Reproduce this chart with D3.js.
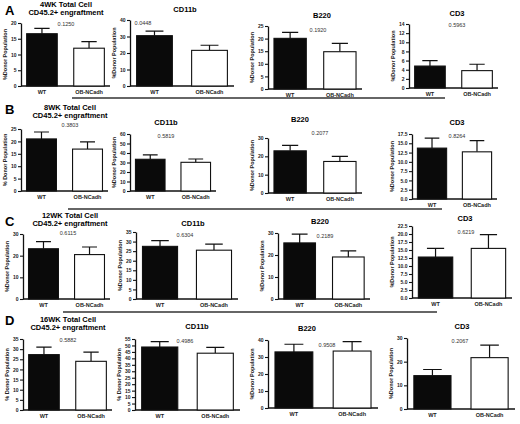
<!DOCTYPE html>
<html>
<head>
<script src="https://d3js.org/d3.v7.min.js"></script>
<style>
  body { margin: 0; background: #fff; }
  text { font-family: "Liberation Sans", Arial, sans-serif; }
</style>
</head>
<body>
<script>
	// groups and row labels
	var groups = ["WT", "OB-NCadh"];
	var rowLetters = ["A", "B", "C", "D"];
	var firstTitles = [
		["4WK Total  Cell", "CD45.2+ engraftment"],
		["8WK Total  Cell", "CD45.2+ engraftment"],
		["12WK Total  Cell", "CD45.2+ engraftment"],
		["16WK Total  Cell", "CD45.2+ engraftment"]
	];
	var panelTitles = ["", "CD11b", "B220", "CD3"];
	var yLabels = [
		["%Donor Population", "%Donor Population", "%Donor Population", "%Donor Population"],
		["% Donor Population", "%Donor Population", "%Donor Population", "%Donor Population"],
		["%Donor Population", "%Donor Population", "%Donor Population", "%Donor Population"],
		["% Donor Population", "% Donor Population", "%Donor Population", "%Donor Population"]
	];

	// axis ranges and tick steps
	var yMax = [[20, 40, 25, 14], [25, 60, 30, 17.5], [30, 35, 30, 22.5], [35, 55, 40, 30]];
	var yStep = [[5, 10, 5, 2], [5, 10, 10, 2.5], [10, 5, 10, 2.5], [5, 5, 10, 10]];

	// values (mean and SEM)
	var wtMean = [[16.6, 30.5, 20.1, 4.8], [21.0, 33.4, 23.0, 13.7], [23.2, 27.5, 25.5, 12.8], [27.3, 48.8, 33.0, 14.1]];
	var wtSem  = [[1.7, 2.8, 2.4, 1.2], [2.8, 4.6, 3.0, 2.7], [3.3, 3.0, 4.0, 2.7], [3.7, 4.2, 4.5, 2.6]];
	var obMean = [[12.0, 21.6, 14.8, 3.8], [16.9, 30.2, 17.2, 12.7], [20.5, 25.5, 19.1, 15.5], [24.0, 44.0, 33.5, 21.7]];
	var obSem  = [[2.1, 3.1, 3.3, 1.4], [2.9, 3.5, 2.8, 3.0], [3.5, 3.2, 2.8, 4.3], [4.5, 4.5, 5.5, 5.3]];
	var pValues = [
		["0.1250", "0.0448", "0.1920", "0.5963"],
		["0.3803", "0.5819", "0.2077", "0.8264"],
		["0.6115", "0.6304", "0.2189", "0.6219"],
		["0.5882", "0.4986", "0.9508", "0.2067"]
	];

	// panel placement: axis x, axis end, plot top, plot bottom, title x/y, p x/y
	var layout = [
		[
			{ax: 21, ar: 110, top: 23, bot: 86, tx: 66, ty: 7, px: 66, py: 26},
			{ax: 130, ar: 234, top: 20, bot: 86, tx: 185, ty: 12, px: 143, py: 25},
			{ax: 268, ar: 362, top: 26, bot: 89, tx: 322, ty: 18, px: 318, py: 32},
			{ax: 409, ar: 498, top: 24, bot: 88, tx: 457, ty: 16, px: 457, py: 27}
		],
		[
			{ax: 21, ar: 108, top: 129, bot: 191, tx: 70, ty: 110, px: 70, py: 127},
			{ax: 130, ar: 216, top: 134, bot: 191, tx: 166, ty: 125, px: 166, py: 138},
			{ax: 268, ar: 362, top: 138, bot: 193, tx: 300, ty: 122, px: 320, py: 135},
			{ax: 412, ar: 497, top: 134, bot: 199, tx: 457, ty: 125, px: 457, py: 138}
		],
		[
			{ax: 23, ar: 110, top: 234, bot: 299, tx: 70, ty: 218, px: 68, py: 235},
			{ax: 136, ar: 238, top: 232, bot: 299, tx: 193, ty: 226, px: 185, py: 237},
			{ax: 278, ar: 370, top: 233, bot: 299, tx: 320, ty: 224, px: 325, py: 238},
			{ax: 412, ar: 512, top: 226, bot: 298, tx: 465, ty: 221, px: 466, py: 234}
		],
		[
			{ax: 23, ar: 112, top: 339, bot: 410, tx: 68, ty: 322, px: 68, py: 342},
			{ax: 135, ar: 240, top: 339, bot: 410, tx: 197, ty: 329, px: 185, py: 343},
			{ax: 268, ar: 378, top: 340, bot: 408, tx: 307, ty: 331, px: 327, py: 347},
			{ax: 407, ar: 515, top: 338, bot: 409, tx: 462, ty: 329, px: 460, py: 343}
		]
	];
	var separators = [{y: 98, x1: 72, x2: 445}, {y: 209, x1: 68, x2: 442}, {y: 312, x1: 63, x2: 437}];
	var letterY = [15, 114, 226, 325];

	var svg = d3.select("body")
		.append("svg")
		.attr("width", 520)
		.attr("height", 424)
		.style("background", "#fff");

	// separator rules between rows
	separators.forEach(function(s) {
		svg.append("line")
			.attr("x1", s.x1).attr("x2", s.x2)
			.attr("y1", s.y).attr("y2", s.y)
			.attr("stroke", "#333")
			.attr("stroke-width", 1.6);
	});

	rowLetters.forEach(function(letter, r) {
		svg.append("text")
			.attr("x", 5)
			.attr("y", letterY[r])
			.attr("font-size", 13)
			.attr("font-weight", "bold")
			.text(letter);

		for (var c = 0; c < 4; c++) {
			var L = layout[r][c];
			var g = svg.append("g");

			var y = d3.scaleLinear()
				.domain([0, yMax[r][c]])
				.range([L.bot, L.top]);
			var x = d3.scaleBand()
				.domain(groups)
				.range([L.ax, L.ar])
				.paddingInner(0.35)
				.paddingOuter(0.12);

			var step = yStep[r][c];
			var fmt = step % 1 ? d3.format(".1f") : d3.format("d");
			var ticks = d3.range(0, yMax[r][c] + step / 2, step);

			var yAxis = g.append("g")
				.attr("transform", "translate(" + L.ax + ",0)")
				.call(d3.axisLeft(y).tickValues(ticks).tickSize(3).tickSizeOuter(0).tickPadding(1.5).tickFormat(fmt));
			yAxis.select(".domain").attr("stroke", "#111").attr("stroke-width", 1.3);
			yAxis.selectAll(".tick line").attr("stroke", "#111").attr("stroke-width", 1.1);
			yAxis.selectAll(".tick text")
				.attr("font-size", 5)
				.attr("font-weight", "bold")
				.attr("fill", "#222")
				.attr("font-family", "Liberation Sans, Arial, sans-serif");

			// x baseline
			g.append("line")
				.attr("x1", L.ax).attr("x2", L.ar)
				.attr("y1", L.bot).attr("y2", L.bot)
				.attr("stroke", "#111")
				.attr("stroke-width", 1.3);

			var rows = [
				{grp: groups[0], mean: wtMean[r][c], sem: wtSem[r][c], fill: "#0a0a0a"},
				{grp: groups[1], mean: obMean[r][c], sem: obSem[r][c], fill: "#fff"}
			];

			// error bars (upper only)
			g.selectAll(".err")
				.data(rows)
				.enter()
				.append("path")
				.attr("d", function(d) {
					var cx = x(d.grp) + x.bandwidth() / 2;
					var hw = x.bandwidth() * 0.25;
					return "M" + cx + "," + y(d.mean) + "V" + y(d.mean + d.sem)
						+ "M" + (cx - hw) + "," + y(d.mean + d.sem) + "H" + (cx + hw);
				})
				.attr("stroke", "#111")
				.attr("stroke-width", 1.2)
				.attr("fill", "none");

			g.selectAll(".bar")
				.data(rows)
				.enter()
				.append("rect")
				.attr("x", function(d) { return x(d.grp); })
				.attr("y", function(d) { return y(d.mean); })
				.attr("width", x.bandwidth())
				.attr("height", function(d) { return L.bot - y(d.mean); })
				.attr("fill", function(d) { return d.fill; })
				.attr("stroke", "#111")
				.attr("stroke-width", 1.1);

			// group labels
			g.selectAll(".xl")
				.data(groups)
				.enter()
				.append("text")
				.attr("x", function(d) { return x(d) + x.bandwidth() / 2; })
				.attr("y", L.bot + 7.5)
				.attr("text-anchor", "middle")
				.attr("font-size", 5.5)
				.attr("font-weight", "bold")
				.attr("fill", "#222")
				.text(function(d) { return d; });

			// titles
			if (c === 0) {
				firstTitles[r].forEach(function(t, i) {
					g.append("text")
						.attr("x", L.tx)
						.attr("y", L.ty + i * 8)
						.attr("text-anchor", "middle")
						.attr("font-size", 7.5)
						.attr("font-weight", "bold")
						.text(t);
				});
			} else {
				g.append("text")
					.attr("x", L.tx)
					.attr("y", L.ty)
					.attr("text-anchor", "middle")
					.attr("font-size", 7.5)
					.attr("font-weight", "bold")
					.text(panelTitles[c]);
			}

			g.append("text")
				.attr("x", L.px)
				.attr("y", L.py)
				.attr("text-anchor", "middle")
				.attr("font-size", 5.5)
				.attr("fill", "#333")
				.text(pValues[r][c]);

			// y label sits just left of the tick labels
			var bb = yAxis.node().getBBox();
			var lx = L.ax + bb.x - 3.5;
			g.append("text")
				.attr("transform", "translate(" + lx + "," + ((L.top + L.bot) / 2) + ") rotate(-90)")
				.attr("text-anchor", "middle")
				.attr("font-size", 5.5)
				.attr("font-weight", "bold")
				.attr("fill", "#222")
				.text(yLabels[r][c]);
		}
	});
</script>
</body>
</html>
